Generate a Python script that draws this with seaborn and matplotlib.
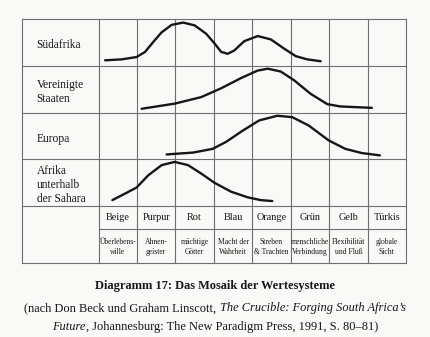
import numpy as np
import pandas as pd
import matplotlib
matplotlib.use("Agg")
import matplotlib.pyplot as plt
import seaborn as sns

# Value-system levels (columns) and their short descriptions
levels = ["Beige", "Purpur", "Rot", "Blau", "Orange", "Grün", "Gelb", "Türkis"]
descriptions = ["Überlebens-\nwille", "Ahnen-\ngeister", "mächtige\nGötter",
                "Macht der\nWahrheit", "Streben\n& Trachten", "menschliche\nVerbindung",
                "Flexibilität\nund Fluß", "globale\nSicht"]

# Regions (rows)
regions = ["Südafrika", "Vereinigte\nStaaten", "Europa", "Afrika\nunterhalb\nder Sahara"]

# Distribution profiles per region: position along the levels (column units)
# and relative height within the row (0 = bottom, 1 = top)
sa_x = [0.17, 0.60, 0.99, 1.21, 1.42, 1.64, 1.90, 2.20, 2.50, 2.80, 3.02, 3.19,
        3.36, 3.53, 3.79, 4.14, 4.48, 4.83, 5.13, 5.43, 5.78]
sa_h = [0.12, 0.14, 0.19, 0.30, 0.51, 0.72, 0.88, 0.93, 0.87, 0.69, 0.48, 0.30,
        0.26, 0.33, 0.53, 0.64, 0.57, 0.37, 0.21, 0.14, 0.10]

us_x = [1.12, 1.98, 2.67, 3.19, 3.71, 4.14, 4.40, 4.74, 5.09, 5.52, 5.95, 6.29, 7.11]
us_h = [0.08, 0.19, 0.33, 0.52, 0.74, 0.90, 0.94, 0.88, 0.69, 0.40, 0.18, 0.13, 0.10]

eu_x = [1.77, 2.46, 2.97, 3.32, 3.75, 4.18, 4.65, 5.04, 5.47, 5.99, 6.42, 6.85, 7.32]
eu_h = [0.10, 0.14, 0.22, 0.37, 0.61, 0.83, 0.93, 0.90, 0.72, 0.40, 0.22, 0.13, 0.08]

af_x = [0.36, 0.69, 0.99, 1.29, 1.64, 1.98, 2.33, 2.67, 3.02, 3.45, 3.88, 4.22, 4.52]
af_h = [0.12, 0.26, 0.39, 0.65, 0.87, 0.94, 0.87, 0.69, 0.49, 0.30, 0.18, 0.12, 0.10]

title = "Diagramm 17: Das Mosaik der Wertesysteme"
source_line1 = [("(nach Don Beck und Graham Linscott, ", "normal"),
                ("The Crucible: Forging South Africa’s", "italic")]
source_line2 = [("Future", "italic"),
                (", Johannesburg: The New Paradigm Press, 1991, S. 80–81)", "normal")]

sns.set_theme(style="white")
plt.rcParams["font.family"] = ["Liberation Serif", "DejaVu Serif"]

W, H = 430, 337
paper = "#f9f9f7"
ink = "#161616"
grid = "#6e6e6e"

fig = plt.figure(figsize=(W / 100, H / 100), dpi=100, facecolor=paper)
ax = fig.add_axes([21.7 / W, 1 - 263.3 / H, (406 - 21.7) / W, (263.3 - 19.3) / H])
ax.set_facecolor(paper)

ymax = (263.3 - 19.3) / 46.6

# Table grid
lw = 0.8
grid_kw = dict(color=grid, lw=lw, solid_capstyle="projecting", clip_on=False)
for xv in [-2] + list(range(0, 9)):
    ax.plot([xv, xv], [0, ymax], **grid_kw)
for yv in [0, 1, 2, 3, 4, ymax]:
    ax.plot([-2, 8], [yv, yv], **grid_kw)
ax.plot([0, 8], [4.506, 4.506], **grid_kw)

# Profile curves
profiles = [(sa_x, sa_h), (us_x, us_h), (eu_x, eu_h), (af_x, af_h)]
frames = []
for i, (xs, hs) in enumerate(profiles):
    frames.append(pd.DataFrame({"x": xs, "y": [i + 1 - h for h in hs],
                                "region": regions[i]}))
df = pd.concat(frames, ignore_index=True)
sns.lineplot(data=df, x="x", y="y", units="region", estimator=None, sort=False,
             color=ink, lw=1.7, ax=ax, legend=False)
ax.set_xlim(-2, 8)
ax.set_ylim(ymax, 0)
ax.axis("off")

# Row labels
for i, name in enumerate(regions):
    ax.text(-1.61, i + 0.56, name, ha="left", va="center", fontsize=8.3,
            color=ink, linespacing=1.2)

# Column labels and descriptions
for j, (lev, desc) in enumerate(zip(levels, descriptions)):
    ax.text(j + 0.5, 4.26, lev, ha="center", va="center", fontsize=7.4, color=ink)
    ax.text(j + 0.5, 4.89, desc, ha="center", va="center", fontsize=5.5,
            color=ink, linespacing=1.42)

# Caption
fig.text(0.5, 1 - 286 / H, title, ha="center", va="center", fontsize=8.9,
         fontweight="bold", color=ink)

renderer = fig.canvas.get_renderer()


def draw_runs(runs, y_px, size):
    pieces = []
    total = 0.0
    for s, style in runs:
        t = fig.text(0, 0, s, fontsize=size, fontstyle=style, color=ink,
                     ha="left", va="center")
        w = t.get_window_extent(renderer).width
        pieces.append((t, w))
        total += w
    x = (W - total) / 2
    for t, w in pieces:
        t.set_position((x / W, 1 - y_px / H))
        x += w


draw_runs(source_line1, 308.3, 8.9)
draw_runs(source_line2, 327.0, 8.9)

fig.savefig("out.png", dpi=100, facecolor=paper)
